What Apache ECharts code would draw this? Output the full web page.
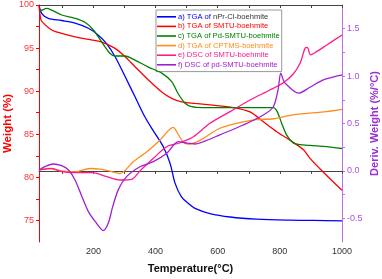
<!DOCTYPE html>
<html>
<head>
<meta charset="utf-8">
<script src="https://cdn.jsdelivr.net/npm/echarts@6/dist/echarts.min.js"></script>
<style>
html,body{margin:0;padding:0;background:#fff;}
#chart{width:382px;height:279px;}
</style>
</head>
<body>
<div id="chart"></div>
<script>
// ---- data ----
const seriesNames = [
  'a) TGA of nPr-Cl-boehmite',
  'b) TGA of SMTU-boehmite',
  'c) TGA of Pd-SMTU-boehmite',
  'd) TGA of CPTMS-boehmite',
  'e) DSC of SMTU-boehmite',
  'f) DSC of pd-SMTU-boehmite'
];
const tempA = [25, 34, 55, 98, 141, 184, 216, 243, 270, 302, 334, 366, 398, 425, 447, 463, 484, 505, 527, 575, 640, 725, 833, 908, 1000];
const weightA = [100, 99.0, 98.45, 98.2, 97.9, 97.3, 96.5, 95.5, 94.0, 91.7, 89.35, 87.0, 85.1, 83.55, 81.6, 79.3, 77.7, 77.0, 76.4, 75.8, 75.4, 75.15, 75.03, 75.0, 74.95];

const tempB = [25, 31, 39, 66, 98, 141, 184, 227, 270, 302, 334, 377, 420, 452, 484, 527, 575, 650, 704, 747, 790, 833, 876, 897, 940, 1000];
const weightB = [100, 98.3, 97.9, 97.1, 96.7, 96.3, 96.0, 95.7, 94.97, 94.0, 92.84, 91.3, 89.9, 89.16, 88.77, 88.58, 88.4, 88.1, 87.6, 86.45, 85.3, 84.3, 83.2, 82.2, 80.6, 78.5];

const tempC = [27, 34, 50, 66, 98, 141, 173, 200, 227, 253, 270, 302, 334, 377, 420, 452, 473, 495, 516, 554, 672, 779, 792, 806, 822, 843, 865, 940, 1000];
const weightC = [99.3, 99.4, 99.6, 99.4, 98.84, 98.45, 97.99, 97.1, 95.7, 94.4, 94.08, 94.08, 93.6, 92.8, 92.1, 91.1, 89.7, 88.6, 88.2, 88.1, 88.1, 88.1, 87.6, 86.26, 84.9, 84.0, 83.8, 83.6, 83.35];

const tempD = [25, 55, 98, 141, 189, 227, 270, 286, 328, 372, 414, 457, 463, 489, 505, 543, 607, 682, 725, 779, 833, 876, 940, 1000];
const weightD = [80.85, 81.03, 80.76, 80.64, 81.03, 80.92, 80.57, 80.45, 81.8, 82.96, 84.3, 85.8, 85.6, 84.1, 83.85, 84.3, 85.7, 86.45, 86.7, 86.8, 87.2, 87.4, 87.6, 87.9];

const tempE = [25, 66, 98, 135, 195, 243, 286, 323, 350, 393, 436, 479, 522, 575, 640, 704, 768, 811, 843, 865, 881, 888, 899, 913, 951, 1000];
const derivE = [0.01, 0.027, -0.008, -0.019, -0.019, -0.06, -0.096, -0.089, 0.0, 0.133, 0.255, 0.297, 0.36, 0.502, 0.625, 0.748, 0.853, 0.93, 1.022, 1.135, 1.293, 1.304, 1.223, 1.247, 1.328, 1.434];

const tempF = [25, 44, 71, 98, 120, 141, 163, 184, 205, 232, 248, 262, 280, 307, 350, 393, 436, 473, 495, 527, 554, 607, 682, 747, 779, 794, 803, 811, 817, 860, 897, 940, 1000];
const derivF = [0.01, 0.045, 0.073, 0.055, 0.01, -0.096, -0.27, -0.43, -0.53, -0.63, -0.55, -0.38, -0.2, -0.06, 0.044, 0.097, 0.186, 0.308, 0.297, 0.284, 0.308, 0.38, 0.484, 0.59, 0.677, 0.853, 1.03, 0.96, 0.924, 0.82, 0.882, 0.96, 1.012];

const xTicks = [100, 200, 300, 400, 500, 600, 700, 800, 900, 1000];
const xLabels = [200, 400, 600, 800, 1000];
const leftTicks = [75, 77.5, 80, 82.5, 85, 87.5, 90, 92.5, 95, 97.5, 100];
const leftLabels = [75, 80, 85, 90, 95, 100];
const rightTicks = [-0.5, -0.25, 0, 0.25, 0.5, 0.75, 1.0, 1.25, 1.5];
const rightLabels = [-0.5, 0.0, 0.5, 1.0, 1.5];

// ---- styling ----
const colors = ['#0000ff', '#ff0000', '#008000', '#ff8c1a', '#ff1a8c', '#a020d0'];
const font = 'Arial, "Liberation Sans", sans-serif';

function pairs(xs, ys) { return xs.map((x, i) => [x, ys[i]]); }

const data = [
  pairs(tempA, weightA), pairs(tempB, weightB), pairs(tempC, weightC),
  pairs(tempD, weightD), pairs(tempE, derivE), pairs(tempF, derivF)
];
const yIdx = [0, 0, 0, 0, 1, 1];

const chart = echarts.init(document.getElementById('chart'), null, {renderer: 'canvas'});
chart.setOption({
  animation: false,
  backgroundColor: '#ffffff',
  grid: {left: 39, right: 40, top: 5, bottom: 37, containLabel: false, outerBoundsMode: 'none'},
  legend: {
    orient: 'vertical', left: 156, top: 10,
    backgroundColor: '#fff', borderColor: '#999', borderWidth: 1,
    padding: [2, 2, 2, 1], itemWidth: 19, itemHeight: 1.6, itemGap: 0,
    icon: 'rect',
    textStyle: {fontSize: 7.6, fontFamily: font, lineHeight: 9.6, padding: [0, 0, 0, -3],
      rich: {a: {color: '#0000ff', fontSize: 7.6, fontFamily: font, lineHeight: 9.6}, k: {color: '#333333', fontSize: 7.6, fontFamily: font, lineHeight: 9.6}}},
    formatter: function (name) {
      if (name.indexOf('a)') === 0) return '{a|a) TGA of} {k|nPr-Cl-boehmite}';
      return name;
    },
    data: seriesNames.map((n, i) => ({name: n, textStyle: {color: colors[i]}}))
  },
  xAxis: [{
    type: 'value', min: 25, max: 1000, position: 'bottom',
    name: 'Temperature(°C)', nameLocation: 'middle', nameGap: 21, nameMoveOverlap: false,
    nameTextStyle: {fontSize: 11, fontWeight: 'bold', fontFamily: font, color: '#111'},
    axisLine: {show: true, lineStyle: {color: '#444', width: 1}},
    axisTick: {show: true, length: 3, inside: false, customValues: xTicks, lineStyle: {color: '#444'}},
    axisLabel: {fontSize: 9, fontFamily: font, color: '#333', margin: 5, customValues: xLabels,
      formatter: v => String(v)},
    splitLine: {show: false}
  }, {
    type: 'value', min: 25, max: 1000, position: 'top',
    axisLine: {show: true, lineStyle: {color: '#444', width: 1}},
    axisTick: {show: true, length: 3, inside: true, customValues: xTicks, lineStyle: {color: '#444'}},
    axisLabel: {show: false},
    splitLine: {show: false}
  }],
  yAxis: [{
    type: 'value', min: 72.5, max: 100, position: 'left',
    name: 'Weight (%)', nameLocation: 'middle', nameGap: 25, nameRotate: 90, nameMoveOverlap: false,
    nameTextStyle: {fontSize: 11.5, fontWeight: 'bold', fontFamily: font, color: '#ff0000'},
    axisLine: {show: true, lineStyle: {color: '#ff0000', width: 1}},
    axisTick: {show: true, length: 3, inside: false, customValues: leftTicks, lineStyle: {color: '#ff0000'}},
    axisLabel: {fontSize: 9, fontFamily: font, color: '#ff3333', margin: 5, customValues: leftLabels,
      formatter: v => String(v)},
    splitLine: {show: false}
  }, {
    type: 'value', min: -0.75, max: 1.75, position: 'right',
    name: 'Deriv. Weight (%/°C)', nameLocation: 'middle', nameGap: 27, nameRotate: 90, nameMoveOverlap: false,
    nameTextStyle: {fontSize: 11, fontWeight: 'bold', fontFamily: font, color: '#9a30d0'},
    axisLine: {show: true, lineStyle: {color: '#c070e0', width: 1}},
    axisTick: {show: true, length: 3, inside: false, customValues: rightTicks, lineStyle: {color: '#c070e0'}},
    axisLabel: {fontSize: 9, fontFamily: font, color: '#b050e0', margin: 5, customValues: rightLabels,
      formatter: v => Number(v).toFixed(1)},
    splitLine: {show: false}
  }],
  series: seriesNames.map((n, i) => ({
    name: n, type: 'line', xAxisIndex: 0, yAxisIndex: yIdx[i],
    data: data[i], showSymbol: false, symbol: 'none', smooth: 0.3,
    lineStyle: {color: colors[i], width: 1.3},
    itemStyle: {color: colors[i]},
    z: 2 + i
  }))
});
</script>
</body>
</html>
